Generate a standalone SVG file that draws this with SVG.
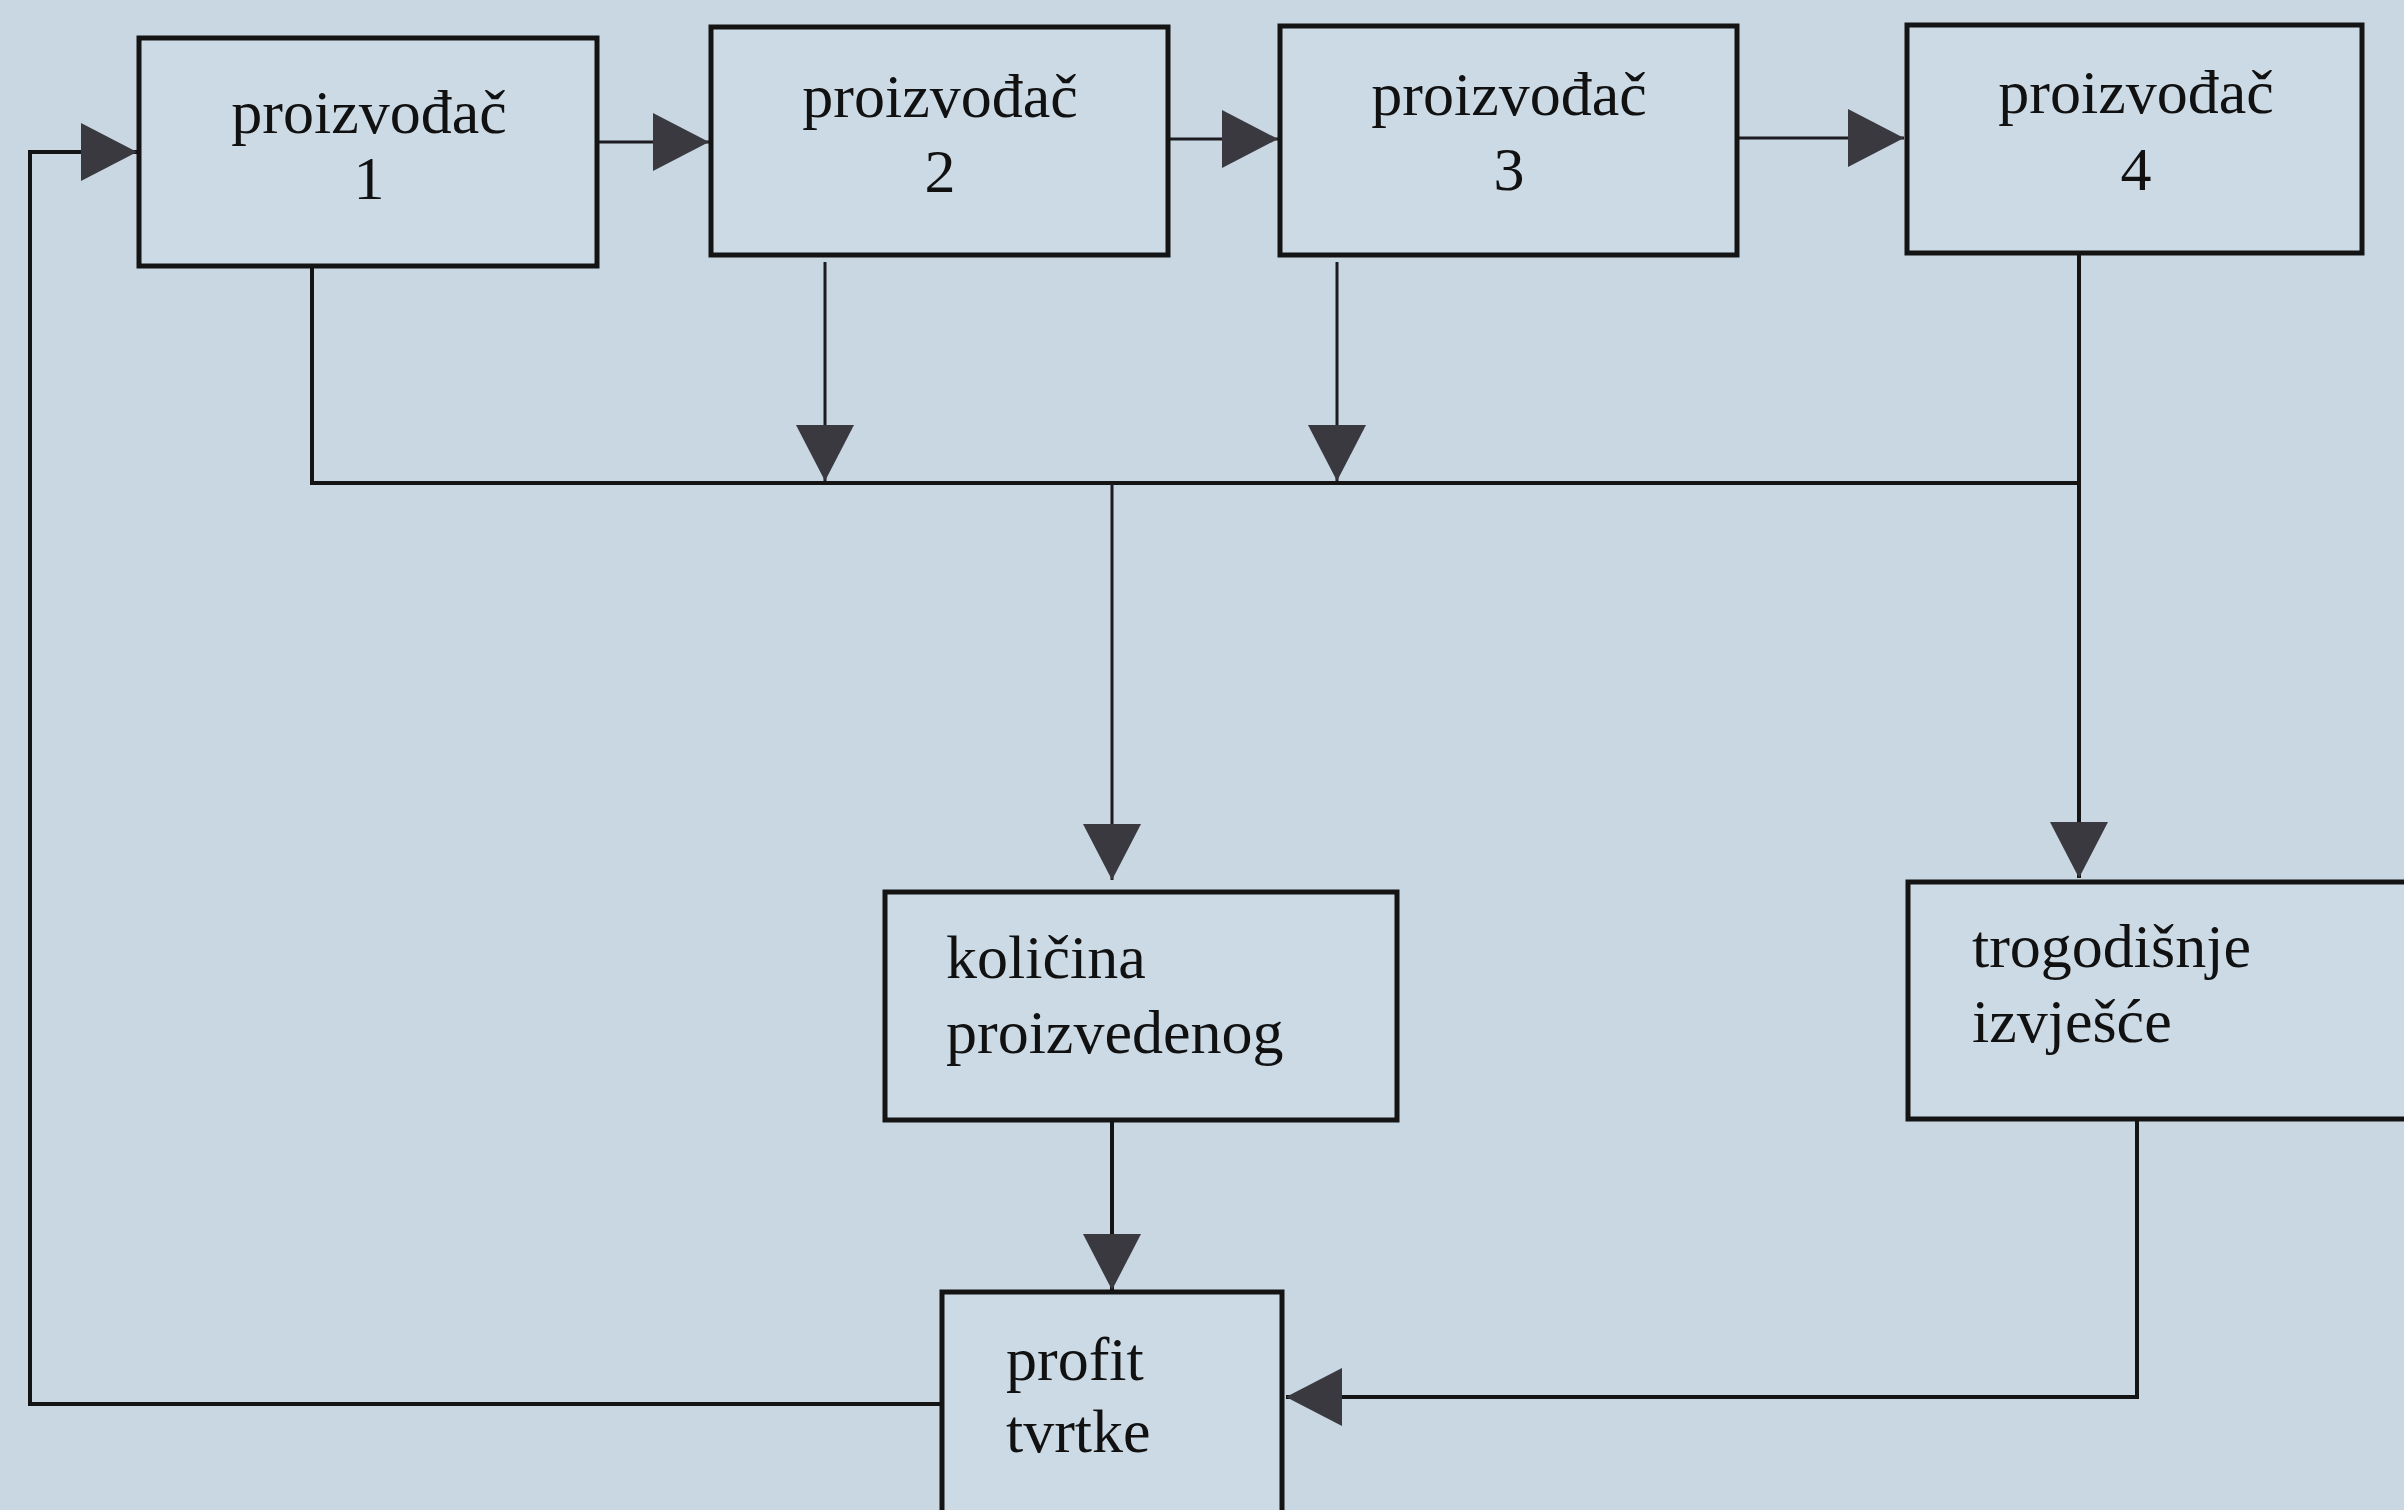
<svg xmlns="http://www.w3.org/2000/svg" width="2404" height="1510" viewBox="0 0 2404 1510">
<style>
.box{fill:#cbdae5;stroke:#141414;stroke-width:5}
.lbl{font-family:"Liberation Serif","Times New Roman",serif;font-size:62px;fill:#111}
.c{text-anchor:middle}
.ln{fill:none;stroke:#141414;stroke-width:4}
.thin{fill:none;stroke:#1c1c20;stroke-width:3}
</style>
<defs>
<marker id="ah" viewBox="0 0 56 58" markerWidth="56" markerHeight="58" markerUnits="userSpaceOnUse" refX="56" refY="29" orient="auto">
<path d="M0,0 L56,29 L0,58 Z" fill="#3a3940"/>
</marker>
</defs>
<rect x="0" y="0" width="2404" height="1510" fill="#c8d7e2"/>
<g id="connectors">
<path class="thin" d="M598,142 H709" marker-end="url(#ah)"/>
<path class="thin" d="M1168,139 H1278" marker-end="url(#ah)"/>
<path class="thin" d="M1737,138 H1904" marker-end="url(#ah)"/>
<path class="ln" d="M312,266 V483 H2079"/>
<path class="thin" d="M825,262 V481" marker-end="url(#ah)"/>
<path class="thin" d="M1337,262 V481" marker-end="url(#ah)"/>
<path class="ln" d="M2079,253 V878" marker-end="url(#ah)"/>
<path class="thin" d="M1112,483 V880" marker-end="url(#ah)"/>
<path class="ln" d="M1112,1120 V1290" marker-end="url(#ah)"/>
<path class="ln" d="M2137,1119 V1397 H1286" marker-end="url(#ah)"/>
<path class="ln" d="M942,1404 H30 V152 H137" marker-end="url(#ah)"/>
</g>
<g id="p1"><rect class="box" x="139" y="38" width="458" height="228"/><text class="lbl c" x="369" y="133">proizvođač</text><text class="lbl c" x="369" y="199">1</text></g>
<g id="p2"><rect class="box" x="711" y="27" width="457" height="228"/><text class="lbl c" x="940" y="117">proizvođač</text><text class="lbl c" x="940" y="192">2</text></g>
<g id="p3"><rect class="box" x="1280" y="26" width="457" height="229"/><text class="lbl c" x="1509" y="115">proizvođač</text><text class="lbl c" x="1509" y="190">3</text></g>
<g id="p4"><rect class="box" x="1907" y="25" width="455" height="228"/><text class="lbl c" x="2136" y="113">proizvođač</text><text class="lbl c" x="2136" y="190">4</text></g>
<g id="kolicina"><rect class="box" x="885" y="892" width="512" height="228"/><text class="lbl" x="946" y="978">količina</text><text class="lbl" x="946" y="1053">proizvedenog</text></g>
<g id="izvjesce"><rect class="box" x="1908" y="882" width="520" height="237"/><text class="lbl" x="1972" y="967">trogodišnje</text><text class="lbl" x="1972" y="1042">izvješće</text></g>
<g id="profit"><rect class="box" x="942" y="1292" width="340" height="240"/><text class="lbl" x="1006" y="1380">profit</text><text class="lbl" x="1006" y="1452">tvrtke</text></g>
</svg>
